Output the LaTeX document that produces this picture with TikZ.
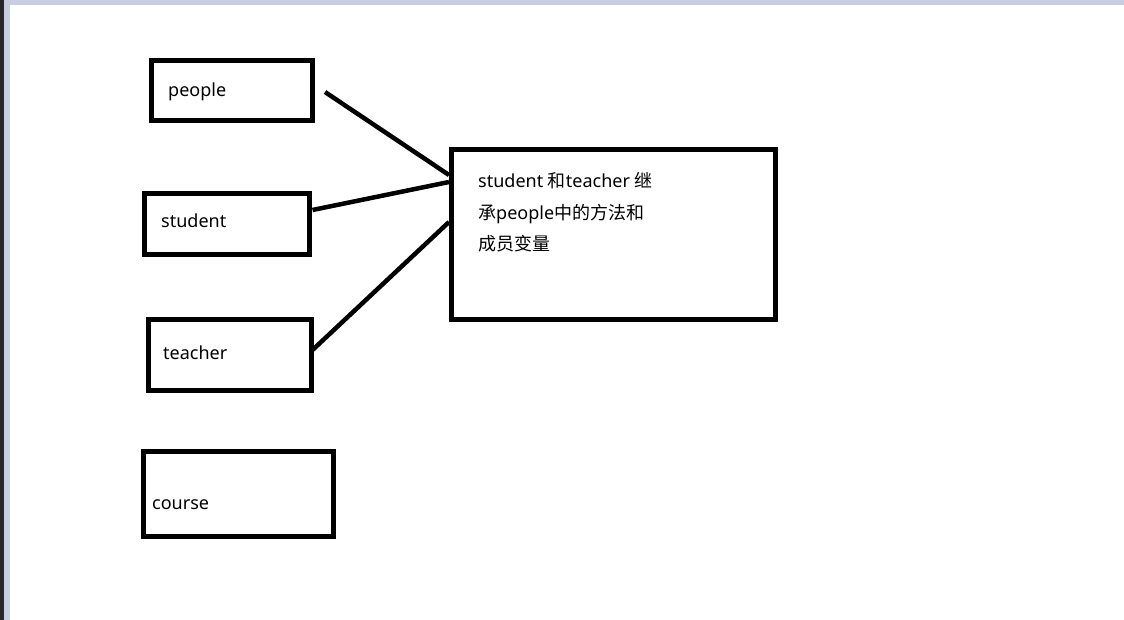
\documentclass[tikz,border=0pt]{standalone}
\usepackage{fontspec}
\setmainfont{Noto Sans}
\newfontfamily\cjk{Noto Sans CJK SC}
\usetikzlibrary{calc}
\definecolor{barblue}{RGB}{197,207,224}
\definecolor{deskdark}{RGB}{38,40,44}
\begin{document}
\begin{tikzpicture}[x=1pt,y=-1pt,
  box/.style={draw, line width=4.8pt, outer sep=0pt, inner sep=0pt},
  lbl/.style={anchor=west, inner sep=0pt, font=\fontsize{18}{31.5}\selectfont},
  conn/.style={line width=4.5pt}]
\useasboundingbox (0,0) rectangle (1124,620);
\fill[white] (0,0) rectangle (1124,620);
\fill[barblue] (0,0) rectangle (1124,5);
\fill[barblue] (4,0) rectangle (10,620);
\fill[deskdark] (0,0) rectangle (4,620);
% boxes
\node[box, minimum width=161, minimum height=60] (people) at (232,90.5) {};
\node[box, minimum width=165, minimum height=61] (student) at (227,224) {};
\node[box, minimum width=163, minimum height=71] (teacher) at (230,355) {};
\node[box, minimum width=190, minimum height=85] (course) at (238.5,494) {};
\node[box, minimum width=324, minimum height=170] (big) at (613.5,234.5) {};
% labels
\node[lbl] (peopleText) at (168,92) {people};
\node[lbl] (studentText) at (161,220.5) {student};
\node[lbl] (teacherText) at (163,352.5) {teacher};
\node[lbl] (courseText) at (152,504.5) {course};
\node[lbl, anchor=north west, align=left] (bigText) at (478,172.5)
  {student {\cjk 和}teacher {\cjk 继}\\{\cjk 承}people{\cjk 中的方法和}\\{\cjk 成员变量}};
% connectors
\draw[conn] ($(people.east)+(12.5,1.5)$) -- ($(big.north west)+(-2.5,25.5)$);
\draw[conn] ($(student.east)+(3,-14)$) -- ($(big.north west)+(-2.5,32.5)$);
\draw[conn] ($(teacher.east)+(1,-5)$) -- ($(big.north west)+(-2.5,72.5)$);
\end{tikzpicture}
\end{document}
